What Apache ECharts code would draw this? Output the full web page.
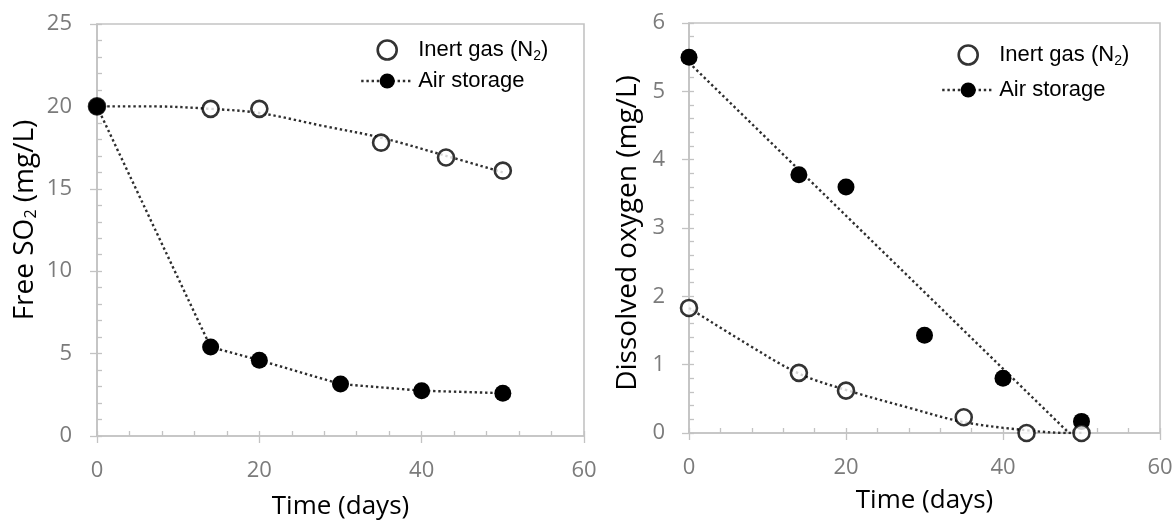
<!DOCTYPE html>
<html>
<head>
<meta charset="utf-8">
<script src="https://cdn.jsdelivr.net/npm/echarts@6/dist/echarts.min.js"></script>
<style>
html,body{margin:0;padding:0;background:#fff;}
#c{width:1176px;height:520px;}
</style>
</head>
<body>
<div id="c"></div>
<script>
// ---- Data ----
const xTicks = [0, 20, 40, 60];
const so2Ticks = [0, 5, 10, 15, 20, 25];
const doTicks = [0, 1, 2, 3, 4, 5, 6];

// Left panel: Free SO2 (mg/L)
const daysSO2Inert = [0, 14, 20, 35, 43, 50];
const so2Inert = [20, 19.85, 19.85, 17.8, 16.9, 16.1];
const daysSO2Air = [0, 14, 20, 30, 40, 50];
const so2Air = [20, 5.4, 4.6, 3.15, 2.75, 2.6];
// dotted trend curve drawn for inert gas
const trendSO2InertDays = [0, 7, 14, 20, 28, 35, 43, 50];
const trendSO2Inert = [20.0, 20.0, 19.85, 19.6, 18.8, 18.1, 17.0, 16.0];

// Right panel: Dissolved oxygen (mg/L)
const daysDOInert = [0, 14, 20, 35, 43, 50];
const doInert = [1.83, 0.88, 0.62, 0.23, 0.0, 0.0];
const daysDOAir = [0, 14, 20, 30, 40, 50];
const doAir = [5.5, 3.78, 3.6, 1.43, 0.8, 0.17];
// dotted trend lines
const trendDOInertDays = [0, 7, 14, 20, 28, 35, 43, 48.5, 50];
const trendDOInert = [1.83, 1.33, 0.87, 0.63, 0.37, 0.16, 0.04, 0.0, 0.0];
const trendDOAirDays = [0, 48.4];
const trendDOAir = [5.42, 0.0];

const NAME_INERT = 'Inert gas (N2)';
const NAME_AIR = 'Air storage';

// ---- helpers ----
const pairs = (xs, ys) => xs.map((x, i) => [x, ys[i]]);
const AXIS_GRAY = '#c3c3c3';
const LABEL_GRAY = '#7b7b7b';
const DOT_COLOR = '#2e2e2e';
const dotted = { color: DOT_COLOR, width: 2.4, type: [2.4, 2.8] };
const TICK_FONT = { fontFamily: 'Open Sans', fontSize: 22, color: LABEL_GRAY };
function nameFont(size, pad) {
  return {
    fontFamily: 'Open Sans', fontSize: size, color: '#000', padding: pad,
    rich: { sub: { fontFamily: 'Open Sans', fontSize: Math.round(size * 0.58), color: '#000', verticalAlign: 'bottom' } }
  };
}

function mainX(gi, ticks, gap) {
  return {
    type: 'value', gridIndex: gi, position: 'bottom',
    min: ticks[0], max: ticks[ticks.length - 1], interval: ticks[1] - ticks[0],
    name: 'Time (days)', nameLocation: 'middle', nameGap: gap, nameTextStyle: nameFont(26, 0),
    axisLine: { show: true, lineStyle: { color: AXIS_GRAY, width: 1.6 } },
    axisTick: { show: true, inside: true, length: 5, lineStyle: { color: AXIS_GRAY, width: 1.3 } },
    minorTick: { show: true, splitNumber: 5, length: 5, lineStyle: { color: AXIS_GRAY, width: 1.3 } },
    splitLine: { show: false }, minorSplitLine: { show: false },
    axisLabel: Object.assign({ margin: 24 }, TICK_FONT)
  };
}
function overlayX(gi, ticks) {
  return {
    type: 'value', gridIndex: gi, position: 'bottom', offset: 0,
    min: ticks[0], max: ticks[ticks.length - 1], interval: ticks[1] - ticks[0],
    axisLine: { show: false },
    axisTick: { show: true, inside: false, length: 7, lineStyle: { color: AXIS_GRAY, width: 1.3 } },
    splitLine: { show: false }, axisLabel: { show: false }
  };
}
function mainY(gi, ticks, name, gap, margin, pad) {
  return {
    type: 'value', gridIndex: gi, position: 'left',
    min: ticks[0], max: ticks[ticks.length - 1], interval: ticks[1] - ticks[0],
    name: name, nameLocation: 'middle', nameGap: gap, nameTextStyle: nameFont(28, pad),
    axisLine: { show: true, lineStyle: { color: AXIS_GRAY, width: 1.6 } },
    axisTick: { show: true, inside: true, length: 5, lineStyle: { color: AXIS_GRAY, width: 1.3 } },
    minorTick: { show: true, splitNumber: 5, length: 5, lineStyle: { color: AXIS_GRAY, width: 1.3 } },
    splitLine: { show: false }, minorSplitLine: { show: false },
    axisLabel: Object.assign({ margin: margin }, TICK_FONT)
  };
}
function overlayY(gi, ticks) {
  return {
    type: 'value', gridIndex: gi, position: 'left', offset: 0,
    min: ticks[0], max: ticks[ticks.length - 1], interval: ticks[1] - ticks[0],
    axisLine: { show: false },
    axisTick: { show: true, inside: false, length: 7, lineStyle: { color: AXIS_GRAY, width: 1.3 } },
    splitLine: { show: false }, axisLabel: { show: false }
  };
}

const openCircle = { color: '#fff', borderColor: '#000', borderWidth: 2.6 };
const filledCircle = { color: '#000' };

function legendFor(left, top, gap) {
  return {
    show: true, orient: 'vertical', left: left, top: top,
    itemWidth: 52, itemHeight: 19, itemGap: gap,
    data: [
      { name: NAME_INERT, itemStyle: { color: '#fff', borderColor: '#000', borderWidth: 2.6 } },
      { name: NAME_AIR, lineStyle: { color: DOT_COLOR, width: 2.4, type: [2.4, 2.8], opacity: 1 } }
    ],
    formatter: n => n === NAME_INERT ? 'Inert gas (N{sub|2})' : n,
    textStyle: {
      fontFamily: 'Liberation Sans', fontSize: 22, color: '#000', lineHeight: 26,
      rich: { sub: { fontFamily: 'Liberation Sans', fontSize: 14, color: '#000', verticalAlign: 'bottom' } }
    },
    selectedMode: false
  };
}

const option = {
  animation: false,
  backgroundColor: '#fff',
  grid: [
    { left: 97, top: 24, width: 487, height: 412, outerBoundsMode: 'none', containLabel: false,
      show: true, borderColor: AXIS_GRAY, borderWidth: 1.6, backgroundColor: 'transparent' },
    { left: 689, top: 23, width: 471, height: 410, outerBoundsMode: 'none', containLabel: false,
      show: true, borderColor: AXIS_GRAY, borderWidth: 1.6, backgroundColor: 'transparent' }
  ],
  xAxis: [mainX(0, xTicks, 58), overlayX(0, xTicks), mainX(1, xTicks, 55), overlayX(1, xTicks)],
  yAxis: [
    mainY(0, so2Ticks, 'Free SO{sub|2} (mg/L)', 58, 25, [0, 0, 0, 20]), overlayY(0, so2Ticks),
    mainY(1, doTicks, 'Dissolved oxygen (mg/L)', 47, 24, [0, 10, 0, 0]), overlayY(1, doTicks)
  ],
  legend: [legendFor(355, 32, 5), legendFor(936, 37, 9)],
  series: [
    // ---- left panel ----
    { type: 'line', name: 'trend-so2-inert', xAxisIndex: 0, yAxisIndex: 0,
      data: pairs(trendSO2InertDays, trendSO2Inert), smooth: 0.35, showSymbol: false, symbol: 'none',
      lineStyle: dotted, silent: true, z: 2 },
    { type: 'scatter', name: NAME_INERT, xAxisIndex: 0, yAxisIndex: 0,
      data: pairs(daysSO2Inert, so2Inert), symbol: 'circle', symbolSize: 16, itemStyle: openCircle, z: 3 },
    { type: 'line', name: NAME_AIR, xAxisIndex: 0, yAxisIndex: 0,
      data: pairs(daysSO2Air, so2Air), symbol: 'circle', symbolSize: 17, showAllSymbol: true,
      itemStyle: filledCircle, lineStyle: dotted, z: 4 },
    // ---- right panel ----
    { type: 'line', name: 'trend-do-air', xAxisIndex: 2, yAxisIndex: 2,
      data: pairs(trendDOAirDays, trendDOAir), showSymbol: false, symbol: 'none',
      lineStyle: dotted, silent: true, z: 2 },
    { type: 'line', name: 'trend-do-inert', xAxisIndex: 2, yAxisIndex: 2,
      data: pairs(trendDOInertDays, trendDOInert), smooth: 0.35, showSymbol: false, symbol: 'none',
      lineStyle: dotted, silent: true, z: 2 },
    { type: 'line', name: NAME_AIR, xAxisIndex: 2, yAxisIndex: 2,
      data: pairs(daysDOAir, doAir), symbol: 'circle', symbolSize: 17, showAllSymbol: true,
      itemStyle: filledCircle, lineStyle: { width: 0, opacity: 0 }, z: 3 },
    { type: 'scatter', name: NAME_INERT, xAxisIndex: 2, yAxisIndex: 2,
      data: pairs(daysDOInert, doInert), symbol: 'circle', symbolSize: 16, itemStyle: openCircle, z: 4 }
  ]
};

const chart = echarts.init(document.getElementById('c'), null, { renderer: 'canvas' });
chart.setOption(option);
</script>
</body>
</html>
